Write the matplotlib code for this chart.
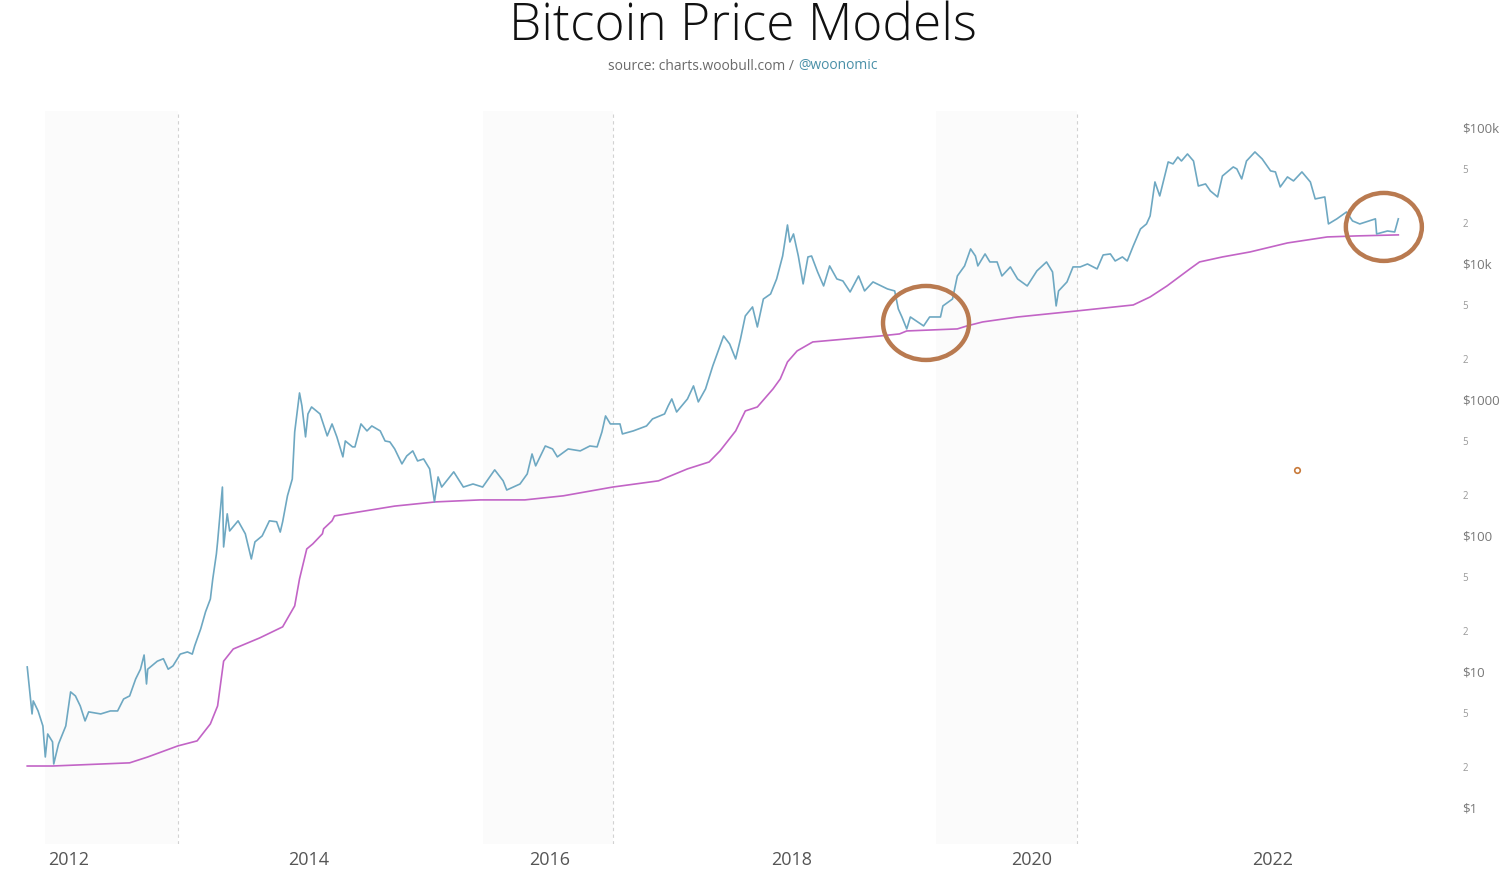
import matplotlib.pyplot as plt
from matplotlib.patches import Ellipse
from matplotlib.transforms import ScaledTranslation
from matplotlib.ticker import FixedLocator, FixedFormatter

plt.rcParams['font.family'] = ['Open Sans', 'DejaVu Sans']

# market price (decimal year, USD)
price_year = [2011.66, 2011.67, 2011.70, 2011.71, 2011.75, 2011.79, 2011.81, 2011.83, 2011.87, 2011.88,
              2011.92, 2011.98, 2012.00, 2012.02, 2012.06, 2012.10, 2012.14, 2012.17, 2012.27, 2012.35,
              2012.41, 2012.46, 2012.51, 2012.56, 2012.60, 2012.63, 2012.65, 2012.66, 2012.74, 2012.79,
              2012.83, 2012.87, 2012.93, 2012.99, 2013.03, 2013.05, 2013.10, 2013.14, 2013.18, 2013.20,
              2013.23, 2013.24, 2013.28, 2013.29, 2013.32, 2013.34, 2013.41, 2013.47, 2013.52, 2013.55,
              2013.61, 2013.67, 2013.73, 2013.76, 2013.78, 2013.82, 2013.86, 2013.88, 2013.92, 2013.94,
              2013.97, 2013.99, 2014.02, 2014.09, 2014.15, 2014.19, 2014.23, 2014.28, 2014.30, 2014.36,
              2014.38, 2014.43, 2014.48, 2014.52, 2014.59, 2014.63, 2014.67, 2014.71, 2014.77, 2014.81,
              2014.86, 2014.90, 2014.95, 2015.00, 2015.04, 2015.07, 2015.10, 2015.20, 2015.28, 2015.36,
              2015.44, 2015.54, 2015.61, 2015.64, 2015.75, 2015.81, 2015.85, 2015.88, 2015.96, 2016.02,
              2016.06, 2016.15, 2016.25, 2016.33, 2016.39, 2016.43, 2016.46, 2016.50, 2016.58, 2016.60,
              2016.69, 2016.80, 2016.85, 2016.95, 2016.98, 2017.01, 2017.05, 2017.14, 2017.19, 2017.23,
              2017.29, 2017.35, 2017.44, 2017.49, 2017.54, 2017.58, 2017.62, 2017.68, 2017.72, 2017.77,
              2017.83, 2017.88, 2017.93, 2017.97, 2017.99, 2018.02, 2018.06, 2018.10, 2018.14, 2018.17,
              2018.22, 2018.27, 2018.32, 2018.38, 2018.43, 2018.49, 2018.56, 2018.61, 2018.68, 2018.80,
              2018.86, 2018.89, 2018.92, 2018.96, 2018.99, 2019.10, 2019.15, 2019.24, 2019.26, 2019.34,
              2019.38, 2019.44, 2019.49, 2019.53, 2019.55, 2019.61, 2019.65, 2019.71, 2019.75, 2019.82,
              2019.88, 2019.96, 2020.04, 2020.12, 2020.17, 2020.20, 2020.22, 2020.29, 2020.34, 2020.40,
              2020.46, 2020.54, 2020.59, 2020.65, 2020.69, 2020.75, 2020.79, 2020.84, 2020.90, 2020.95,
              2020.98, 2021.02, 2021.06, 2021.13, 2021.17, 2021.21, 2021.24, 2021.29, 2021.34, 2021.38,
              2021.44, 2021.48, 2021.54, 2021.58, 2021.67, 2021.70, 2021.74, 2021.78, 2021.85, 2021.91,
              2021.98, 2022.02, 2022.06, 2022.12, 2022.17, 2022.24, 2022.31, 2022.35, 2022.43, 2022.46,
              2022.53, 2022.61, 2022.66, 2022.72, 2022.85, 2022.86, 2022.95, 2023.01, 2023.04]
price_usd = [10.7, 8.73, 4.83, 6.02, 5.08, 3.94, 2.33, 3.44, 3.01, 2.07,
             2.91, 3.94, 5.26, 7.01, 6.55, 5.53, 4.29, 5.0, 4.83, 5.08,
             5.08, 6.22, 6.55, 8.73, 10.3, 13.1, 8.02, 10.3, 11.8, 12.3,
             10.3, 10.9, 13.3, 13.8, 13.3, 15.3, 20.4, 27.2, 33.8, 47.5,
             72.5, 88.9, 225, 81.6, 143, 107, 127, 102, 66.6, 88.9,
             98.4, 127, 125, 105, 125, 194, 258, 572, 1107, 889,
             526, 776, 873, 776, 535, 655, 526, 375, 491, 444,
             444, 655, 582, 633, 582, 491, 483, 429, 333, 381,
             415, 350, 362, 306, 175, 267, 225, 291, 225, 237,
             225, 301, 250, 214, 237, 281, 394, 322, 451, 429,
             375, 429, 415, 451, 444, 572, 750, 655, 655, 553,
             582, 633, 713, 776, 889, 1000, 802, 1000, 1247, 951,
             1185, 1749, 2905, 2537, 1968, 2762, 4077, 4748, 3383, 5432,
             5916, 7627, 11250, 19020, 14260, 16340, 11250, 7015, 11070, 11250,
             8590, 6775, 9510, 7627, 7375, 6120, 8020, 6225, 7250, 6440,
             6225, 4590, 4006, 3273, 4006, 3443, 4006, 4006, 4830, 5432,
             8020, 9510, 12680, 11250, 9510, 11650, 10170, 10170, 8020, 9350,
             7627, 6775, 8740, 10170, 8590, 4830, 6225, 7250, 9350, 9350,
             9830, 9040, 11450, 11650, 10340, 11070, 10340, 13340, 17780, 19360,
             22170, 39400, 31100, 55300, 53500, 60100, 56200, 63300, 56200, 36800,
             38100, 33850, 30570, 43600, 50800, 49100, 41500, 56200, 65500, 58200,
             47500, 46700, 36200, 42900, 40100, 46700, 39400, 29560, 30570, 19360,
             21100, 23700, 20370, 19360, 21100, 16340, 17180, 16900, 21100]

# realized price (decimal year, USD)
realized_year = [2011.66, 2011.87, 2012.51, 2012.66, 2012.91, 2013.07, 2013.18, 2013.24, 2013.29, 2013.37,
                 2013.59, 2013.78, 2013.88, 2013.92, 2013.98, 2014.03, 2014.11, 2014.12, 2014.19, 2014.21,
                 2014.46, 2014.71, 2015.05, 2015.42, 2015.79, 2016.11, 2016.52, 2016.90, 2017.14, 2017.32,
                 2017.41, 2017.54, 2017.62, 2017.72, 2017.85, 2017.91, 2017.97, 2018.05, 2018.18, 2018.46,
                 2018.74, 2018.90, 2018.96, 2019.38, 2019.46, 2019.59, 2019.88, 2020.37, 2020.84, 2020.98,
                 2021.12, 2021.31, 2021.39, 2021.58, 2021.81, 2022.12, 2022.45, 2022.70, 2023.04]
realized_usd = [2.0, 2.0, 2.11, 2.33, 2.81, 3.06, 4.08, 5.53, 11.8, 14.5,
                17.5, 21.1, 30.1, 47.5, 78.9, 85.9, 102, 111, 127, 138,
                150, 163, 175, 181, 181, 194, 225, 250, 306, 344,
                415, 582, 816, 873, 1185, 1403, 1871, 2255, 2625, 2762,
                2905, 3007, 3162, 3273, 3443, 3683, 4006, 4436, 4910, 5623,
                6775, 9040, 10170, 11070, 12050, 14030, 15530, 15810, 16080]

halving_year = [2012.91, 2016.52, 2020.37]
band_start = [2011.81, 2015.44, 2019.20]
year_ticks = [2012, 2014, 2016, 2018, 2020, 2022]
major_values = [1, 10, 100, 1000, 10000, 100000]
major_labels = ['$1', '$10', '$100', '$1000', '$10k', '$100k']
minor_values = [2, 5, 20, 50, 200, 500, 2000, 5000, 20000, 50000]
minor_labels = ['2', '5'] * 5
circle_year = [2019.12, 2022.92]
circle_usd = [3620, 18400]
circle_size = [(0.86, 0.74), (0.76, 0.68)]  # inches

fig = plt.figure(figsize=(15.03, 8.87), dpi=100)
ax = fig.add_axes([20 / 1503, 1 - 845 / 887, 1420 / 1503, 733 / 887])

# faint shading before each halving, dashed line at the halving
for start, end in zip(band_start, halving_year):
    ax.axvspan(start, end, color='#fbfbfb', lw=0, zorder=0)
for h in halving_year:
    ax.axvline(h, color='#d2d2d2', lw=0.8, ls=(0, (3, 3)), zorder=1)

ax.plot(realized_year, realized_usd, color='#c264c6', lw=1.2, zorder=3)
ax.plot(price_year, price_usd, color='#6ea8c2', lw=1.2, zorder=4)

# hand-drawn circles
for yr, usd, (w, h) in zip(circle_year, circle_usd, circle_size):
    tr = fig.dpi_scale_trans + ScaledTranslation(yr, usd, ax.transData)
    ax.add_patch(Ellipse((0, 0), w, h, transform=tr, fill=False,
                         ec='#b97a50', lw=3.2, zorder=5, clip_on=False))
ax.plot([2022.20], [300], 'o', ms=4, mfc='white', mec='#c87a3a', mew=1.2, zorder=5)

ax.set_yscale('log')
ax.set_xlim(2011.60, 2023.386)
ax.set_ylim(0.534, 131000)

ax.yaxis.tick_right()
ax.yaxis.set_major_locator(FixedLocator(major_values))
ax.yaxis.set_major_formatter(FixedFormatter(major_labels))
ax.yaxis.set_minor_locator(FixedLocator(minor_values))
ax.yaxis.set_minor_formatter(FixedFormatter(minor_labels))
ax.tick_params(axis='y', which='major', length=0, pad=16, labelsize=9.5, labelcolor='#777777')
ax.tick_params(axis='y', which='minor', length=0, pad=16, labelsize=7, labelcolor='#999999')

ax.set_xticks(year_ticks)
ax.set_xticklabels([str(y) for y in year_ticks])
ax.tick_params(axis='x', length=0, pad=4, labelsize=13, labelcolor='#555555')

for s in ax.spines.values():
    s.set_visible(False)

fig.text(0.4943, 1 - 27 / 887, 'Bitcoin Price Models', ha='center', va='center',
         fontsize=37, fontweight='light', color='#111111')
fig.text(794 / 1503, 1 - 66 / 887, 'source: charts.woobull.com /', ha='right', va='center',
         fontsize=10, color='#6a6a6a')
fig.text(798 / 1503, 1 - 66 / 887, '@woonomic', ha='left', va='center',
         fontsize=10, color='#4a90a8')

fig.savefig('out.png', dpi=100)
